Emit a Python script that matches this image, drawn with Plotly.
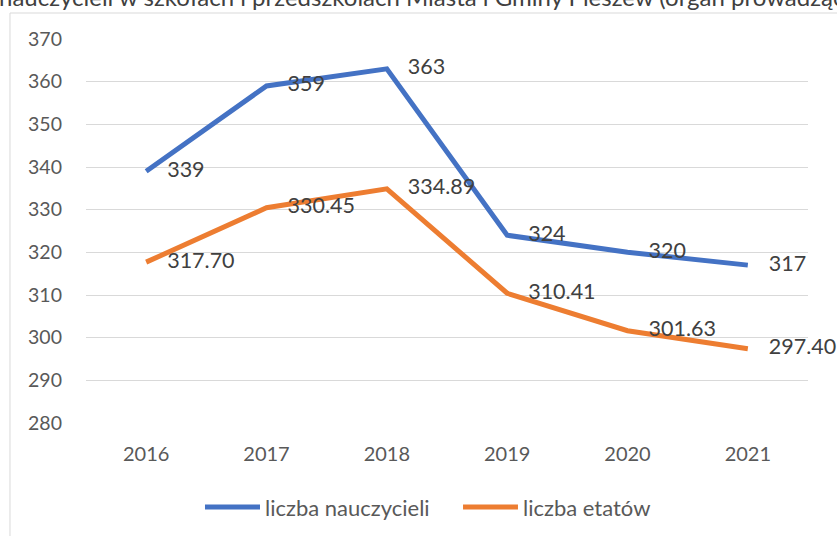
import plotly.graph_objects as go

years = ["2016", "2017", "2018", "2019", "2020", "2021"]
teachers = [339, 359, 363, 324, 320, 317]
teacher_labels = ["339", "359", "363", "324", "320", "317"]
posts = [317.70, 330.45, 334.89, 310.41, 301.63, 297.40]
post_labels = ["317.70", "330.45", "334.89", "310.41", "301.63", "297.40"]
series_names = ["liczba nauczycieli", "liczba etatów"]
colors = ["#4472C4", "#ED7D31"]
title_text = "nauczycieli w szkołach i przedszkolach Miasta i Gminy Pleszew (organ prowadzący)"

FONT = "Lato"

fig = go.Figure()
for vals, labs, name, col in [(teachers, teacher_labels, series_names[0], colors[0]),
                              (posts, post_labels, series_names[1], colors[1])]:
    fig.add_trace(go.Scatter(
        x=years, y=vals, name=name, mode="lines+markers+text",
        line=dict(color=col, width=5),
        marker=dict(size=32, color="rgba(0,0,0,0)"),
        text=labs, textposition="middle right",
        textfont=dict(family=FONT, size=21.5, color="#404040"),
        showlegend=False, cliponaxis=False, hoverinfo="x+y",
    ))

shapes = [
    # chart frame
    dict(type="rect", xref="paper", yref="paper", x0=-0.1053, x1=1.08, y0=-0.35, y1=1.0677,
         line=dict(color="#D9D9D9", width=1), fillcolor="rgba(0,0,0,0)", layer="below"),
]
annotations = [
    dict(text=title_text, xref="paper", yref="paper", x=-0.1233, y=1.1094,
         xanchor="left", yanchor="middle", showarrow=False,
         font=dict(family=FONT, size=24, color="#404040")),
]
# manual legend
leg = [(0.1648, 0.241, 0.2452), (0.5222, 0.5983, 0.6025)]
for (x0, x1, xt), name, col in zip(leg, series_names, colors):
    shapes.append(dict(type="line", xref="paper", yref="paper", x0=x0, x1=x1, y0=-0.21875, y1=-0.21875,
                       line=dict(color=col, width=5)))
    annotations.append(dict(text=name, xref="paper", yref="paper", x=xt, y=-0.21875,
                            xanchor="left", yanchor="middle", showarrow=False,
                            font=dict(family=FONT, size=22, color="#595959")))

fig.update_layout(
    width=837, height=536,
    margin=dict(l=86, r=29, t=39, b=113, autoexpand=False),
    paper_bgcolor="white", plot_bgcolor="white",
    font=dict(family=FONT, color="#595959"),
    xaxis=dict(type="category", range=[-0.5, 5.5], showgrid=False, showline=False, automargin=False,
               ticks="", tickfont=dict(family=FONT, size=20, color="#595959"), ticklabelstandoff=17),
    yaxis=dict(range=[280, 370], dtick=10, tick0=280, showgrid=True, gridcolor="#D9D9D9", gridwidth=1,
               zeroline=False, showline=False, ticks="", automargin=False,
               tickfont=dict(family=FONT, size=19.5, color="#595959"), ticklabelstandoff=23),
    shapes=shapes, annotations=annotations,
)
fig.write_html("out.html", config={"displayModeBar": False},
               post_script="document.body.style.margin='0';document.body.style.overflow='hidden';")
